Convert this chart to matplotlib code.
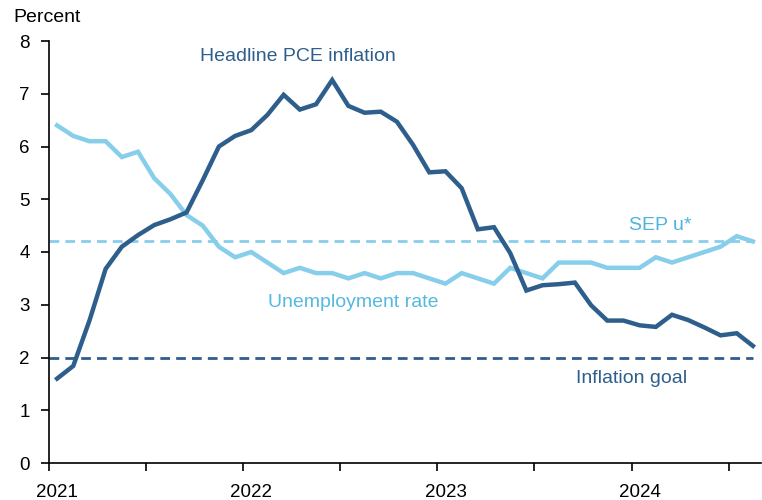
import numpy as np
import matplotlib
matplotlib.use("Agg")
import matplotlib.pyplot as plt

plt.rcParams['font.family'] = ['Liberation Sans', 'DejaVu Sans']

# Monthly data, Jan 2021 - Aug 2024
pce = [1.6, 1.84, 2.7, 3.68, 4.1, 4.32, 4.51, 4.62, 4.75, 5.36, 6.0, 6.2,
       6.31, 6.6, 6.98, 6.7, 6.8, 7.26, 6.77, 6.64, 6.66, 6.47, 6.03, 5.51,
       5.53, 5.21, 4.43, 4.47, 3.98, 3.27, 3.37, 3.39, 3.42, 2.99, 2.70, 2.70,
       2.61, 2.58, 2.81, 2.71, 2.57, 2.42, 2.46, 2.22]
unemp = [6.4, 6.2, 6.1, 6.1, 5.8, 5.9, 5.4, 5.1, 4.7, 4.5, 4.1, 3.9,
         4.0, 3.8, 3.6, 3.7, 3.6, 3.6, 3.5, 3.6, 3.5, 3.6, 3.6, 3.5,
         3.4, 3.6, 3.5, 3.4, 3.7, 3.6, 3.5, 3.8, 3.8, 3.8, 3.7, 3.7,
         3.7, 3.9, 3.8, 3.9, 4.0, 4.1, 4.3, 4.2]
sep_u_star = 4.2
inflation_goal = 2.0
year_labels = ['2021', '2022', '2023', '2024']

dark = '#2E5F8C'
light = '#87CEEB'

x = np.arange(len(pce)) + 0.5

fig = plt.figure(figsize=(7.62, 5.0), dpi=100)
ax = fig.add_axes([49/762, 37/500, 712/762, 422/500])

ax.plot([0, x[-1]], [sep_u_star]*2, color=light, lw=2, ls=(0, (3.5, 2.2)))
ax.plot([0, x[-1]], [inflation_goal]*2, color=dark, lw=2, ls=(0, (3.5, 2.2)))
ax.plot(x, unemp, color=light, lw=3.2, solid_joinstyle='miter')
ax.plot(x, pce, color=dark, lw=3.2, solid_joinstyle='miter')

ax.set_xlim(0, 44)
ax.set_ylim(0, 8)
ax.set_yticks(range(9))
ax.set_xticks(np.arange(0, 45, 6))
ax.set_xticklabels([])
for i, lab in enumerate(year_labels):
    ax.text(12*i + 0.5, -0.4, lab, ha='center', va='top', fontsize=13.5)

ax.spines['top'].set_visible(False)
ax.spines['right'].set_visible(False)
ax.spines['left'].set_linewidth(1.2)
ax.spines['bottom'].set_linewidth(1.2)
ax.tick_params(axis='y', length=6, width=1.2, labelsize=13.5, pad=8)
ax.tick_params(axis='x', length=6, width=1.2, direction='out')

fig.text(13/762, 1 - 17/500, 'Percent', fontsize=14, va='center', ha='left')

ax.text(15.36, 7.7, 'Headline PCE inflation', color=dark, fontsize=14, ha='center', va='center')
ax.text(37.76, 4.51, 'SEP u*', color='#4DB4DE', fontsize=14, ha='center', va='center')
ax.text(18.82, 3.05, 'Unemployment rate', color='#55B9E0', fontsize=14, ha='center', va='center')
ax.text(36.03, 1.61, 'Inflation goal', color=dark, fontsize=14, ha='center', va='center')

fig.savefig('out.png', dpi=100)
